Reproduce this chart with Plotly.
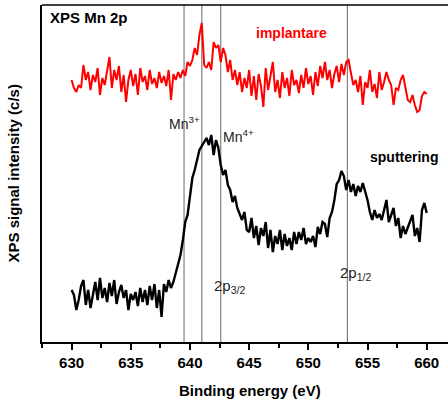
import plotly.graph_objects as go

energy_ev = [
    630.0, 630.2, 630.4, 630.6, 630.8, 631.0, 631.2, 631.4, 631.6, 631.8,
    632.0, 632.2, 632.4, 632.6, 632.8, 633.0, 633.2, 633.4, 633.6, 633.8,
    634.0, 634.2, 634.4, 634.6, 634.8, 635.0, 635.2, 635.4, 635.6, 635.8,
    636.0, 636.2, 636.4, 636.6, 636.8, 637.0, 637.2, 637.4, 637.6, 637.8,
    638.0, 638.2, 638.4, 638.6, 638.8, 639.0, 639.2, 639.4, 639.6, 639.8,
    640.0, 640.2, 640.4, 640.6, 640.8, 641.0, 641.2, 641.4, 641.6, 641.8,
    642.0, 642.2, 642.4, 642.6, 642.8, 643.0, 643.2, 643.4, 643.6, 643.8,
    644.0, 644.2, 644.4, 644.6, 644.8, 645.0, 645.2, 645.4, 645.6, 645.8,
    646.0, 646.2, 646.4, 646.6, 646.8, 647.0, 647.2, 647.4, 647.6, 647.8,
    648.0, 648.2, 648.4, 648.6, 648.8, 649.0, 649.2, 649.4, 649.6, 649.8,
    650.0, 650.2, 650.4, 650.6, 650.8, 651.0, 651.2, 651.4, 651.6, 651.8,
    652.0, 652.2, 652.4, 652.6, 652.8, 653.0, 653.2, 653.4, 653.6, 653.8,
    654.0, 654.2, 654.4, 654.6, 654.8, 655.0, 655.2, 655.4, 655.6, 655.8,
    656.0, 656.2, 656.4, 656.6, 656.8, 657.0, 657.2, 657.4, 657.6, 657.8,
    658.0, 658.2, 658.4, 658.6, 658.8, 659.0, 659.2, 659.4, 659.6, 659.8,
    660.0,
]

implantare = [
    262, 254, 250, 257, 254, 277, 262, 270, 252, 267,
    260, 274, 247, 264, 257, 270, 285, 254, 272, 262,
    276, 250, 267, 240, 262, 272, 256, 268, 247, 274,
    260, 266, 252, 272, 258, 264, 254, 270, 259, 266,
    256, 272, 242, 268, 262, 270, 264, 272, 266, 280,
    276, 282, 294, 287, 307, 319, 277, 274, 280, 272,
    300, 294, 297, 280, 294, 287, 270, 282, 262, 272,
    257, 270, 250, 264, 254, 272, 246, 266, 242, 268,
    256, 235, 274, 252, 267, 280, 250, 262, 244, 270,
    254, 264, 246, 272, 257, 262, 249, 267, 254, 274,
    258, 266, 247, 270, 256, 276, 264, 280, 262, 272,
    254, 268, 276, 260, 278, 267, 280, 282, 269, 257,
    262, 250, 266, 237, 260, 254, 272, 250, 258, 244,
    270, 252, 260, 270, 262, 257, 237, 254, 252, 262,
    267, 254, 242, 240, 247, 237, 230, 232, 246, 250,
    248,
]

sputtering = [
    52, 47, 32, 42, 56, 62, 37, 52, 34, 46,
    60, 42, 64, 44, 54, 40, 59, 46, 62, 38,
    50, 57, 44, 52, 32, 48, 42, 50, 36, 54,
    40, 52, 37, 56, 42, 58, 34, 52, 25, 58,
    50, 62, 54, 60, 70, 80, 87, 102, 120, 127,
    147, 164, 172, 182, 192, 196, 200, 204, 197, 207,
    187, 202, 194, 177, 167, 172, 157, 152, 140, 146,
    134, 127, 122, 130, 112, 110, 124, 104, 116, 97,
    114, 106, 120, 94, 112, 90, 106, 98, 112, 92,
    108, 96, 104, 92, 110, 98, 110, 102, 114, 98,
    104, 100, 106, 95, 115, 108, 120, 118, 105, 124,
    130, 142, 158, 162, 171, 166, 152, 162, 150, 158,
    146, 156, 150, 159, 150, 142, 130, 122, 132, 124,
    128, 122, 132, 142, 120, 128, 134, 116, 124, 104,
    116, 108, 114, 120, 127, 106, 114, 100, 132, 139,
    129,
]

marker_lines_ev = [639.5, 641.0, 642.6, 653.3]
x_tick_values = [630, 635, 640, 645, 650, 655, 660]
x_tick_labels = ["630", "635", "640", "645", "650", "655", "660"]

fig = go.Figure()

fig.add_trace(go.Scatter(
    x=energy_ev, y=implantare, mode="lines",
    line=dict(color="#ff0000", width=2), showlegend=False,
))
fig.add_trace(go.Scatter(
    x=energy_ev, y=sputtering, mode="lines",
    line=dict(color="#000000", width=2.4), showlegend=False,
))

for xv in marker_lines_ev:
    fig.add_shape(type="line", xref="x", yref="paper", x0=xv, x1=xv, y0=0, y1=1,
                  line=dict(color="#808080", width=1.2), layer="below")

# top border
fig.add_shape(type="line", xref="paper", yref="paper", x0=0, x1=1, y0=1, y1=1,
              line=dict(color="#000000", width=1.5))

font_b = "Arial, Liberation Sans, Helvetica, sans-serif"

annots = [
    dict(x=628.0, y=325, text="<b>XPS Mn 2p</b>", xanchor="left", yanchor="middle",
         font=dict(size=15, color="#000000")),
    dict(x=648.58, y=309, text="<b>implantare</b>", xanchor="center", yanchor="middle",
         font=dict(size=14, color="#ff0000")),
    dict(x=658.1, y=185, text="<b>sputtering</b>", xanchor="center", yanchor="middle",
         font=dict(size=14, color="#000000")),
    dict(x=641.0, y=219, text="Mn<sup>3+</sup>", xanchor="right", yanchor="middle",
         font=dict(size=14, color="#222222")),
    dict(x=642.65, y=206, text="Mn<sup>4+</sup>", xanchor="left", yanchor="middle",
         font=dict(size=14, color="#222222")),
    dict(x=641.85, y=56, text="2p<sub>3/2</sub>", xanchor="left", yanchor="middle",
         font=dict(size=15, color="#222222")),
    dict(x=652.5, y=69, text="2p<sub>1/2</sub>", xanchor="left", yanchor="middle",
         font=dict(size=15, color="#222222")),
]
for a in annots:
    fig.add_annotation(xref="x", yref="y", showarrow=False, **a)

fig.add_annotation(xref="paper", yref="paper", x=0, y=0.5, xshift=-29,
                   text="<b>XPS signal intensity (c/s)</b>", textangle=-90,
                   showarrow=False, xanchor="center", yanchor="middle",
                   font=dict(size=15, color="#000000"))
fig.add_annotation(xref="x", yref="paper", x=645.07, y=0, yshift=-48,
                   text="<b>Binding energy (eV)</b>",
                   showarrow=False, xanchor="center", yanchor="middle",
                   font=dict(size=15, color="#000000"))

fig.update_layout(
    width=448, height=404,
    margin=dict(l=42, r=0, t=5, b=62, pad=0),
    paper_bgcolor="white", plot_bgcolor="white",
    font=dict(family=font_b, color="#000000"),
    xaxis=dict(
        range=[627.5, 661.8], showgrid=False, zeroline=False,
        showline=True, linecolor="#000000", linewidth=2,
        ticks="outside", ticklen=6, tickwidth=1.5, tickcolor="#000000",
        tickvals=x_tick_values, ticktext=["<b>" + t + "</b>" for t in x_tick_labels],
        tickfont=dict(size=15, family=font_b, color="#000000"),
        minor=dict(ticks="outside", ticklen=4, tickwidth=1.5, tickcolor="#000000", dtick=2.5, tick0=627.5),
    ),
    yaxis=dict(
        range=[0, 337], showgrid=False, zeroline=False,
        showline=True, linecolor="#000000", linewidth=2,
        ticks="", showticklabels=False,
    ),
)

fig.write_html("out.html")
